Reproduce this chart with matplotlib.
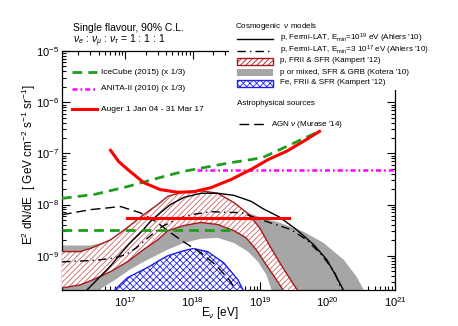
import numpy as np
import matplotlib
matplotlib.use('Agg')
import matplotlib.pyplot as plt
from matplotlib.lines import Line2D
from matplotlib.patches import Rectangle
from matplotlib.ticker import LogLocator, NullFormatter

plt.rcParams['font.family'] = ['Liberation Sans', 'DejaVu Sans']
plt.rcParams['mathtext.fontset'] = 'custom'
plt.rcParams['mathtext.rm'] = 'Liberation Sans'
plt.rcParams['mathtext.it'] = 'Liberation Sans:italic'
plt.rcParams['mathtext.bf'] = 'Liberation Sans:bold'
plt.rcParams['hatch.linewidth'] = 0.6

# values: log10(E / eV), log10(E^2 dN/dE / GeV cm^-2 s^-1 sr^-1)
ice_logE = [16.06, 16.55, 17.03, 17.52, 17.87, 18.12, 18.57, 18.87, 19.04, 19.27, 19.61, 19.88]
ice_logF = [-7.88, -7.80, -7.65, -7.47, -7.35, -7.29, -7.18, -7.12, -7.08, -6.94, -6.73, -6.57]
ice_flat_logE = [16.06, 18.64]
ice_flat_logF = [-8.49, -8.49]

anita_logE = [18.06, 21.0]
anita_logF = [-7.33, -7.33]

auger_logE = [16.78, 16.90, 17.03, 17.27, 17.52, 17.78, 18.01, 18.27, 18.57, 18.87, 19.12, 19.39, 19.66, 19.88]
auger_logF = [-6.94, -7.16, -7.31, -7.57, -7.71, -7.76, -7.75, -7.67, -7.51, -7.31, -7.12, -6.96, -6.75, -6.57]
auger_flat_logE = [17.03, 19.43]
auger_flat_logF = [-8.27, -8.27]

ahl19_logE = [16.40, 16.55, 16.78, 16.93, 17.07, 17.27, 17.37, 17.52, 17.67, 17.87, 18.12,
              18.37, 18.61, 18.87, 19.04, 19.28, 19.54, 19.79, 19.99, 20.13, 20.25]
ahl19_logF = [-9.71, -9.51, -9.20, -8.96, -8.75, -8.49, -8.33, -8.16, -8.00, -7.86, -7.78,
              -7.78, -7.82, -7.94, -8.08, -8.24, -8.49, -8.78, -9.08, -9.41, -9.71]

ahl17_logE = [16.06, 16.40, 16.63, 16.85, 17.00, 17.15, 17.30, 17.52, 17.75, 17.97, 18.27,
              18.72, 19.09, 19.46, 19.69, 19.91, 20.10, 20.22]
ahl17_logF = [-9.12, -9.10, -9.08, -9.04, -8.98, -8.86, -8.69, -8.45, -8.29, -8.20, -8.14,
              -8.16, -8.33, -8.49, -8.69, -8.98, -9.31, -9.71]

agn_logE = [16.06, 16.48, 16.93, 17.22, 17.45, 17.67, 17.90, 18.12, 18.34, 18.54, 18.66]
agn_logF = [-8.20, -8.10, -8.04, -8.16, -8.33, -8.55, -8.76, -8.94, -9.18, -9.47, -9.71]

kamp_up_logE = [16.06, 16.33, 16.52, 16.78, 17.03, 17.27, 17.48, 17.63, 17.87, 18.12, 18.37,
                18.61, 18.82, 18.99, 19.13, 19.31, 19.46, 19.57]
kamp_up_logF = [-8.92, -8.92, -8.84, -8.69, -8.45, -8.20, -8.00, -7.84, -7.75, -7.73, -7.78,
                -7.96, -8.18, -8.45, -8.78, -9.18, -9.49, -9.71]
kamp_lo_logE = [16.06, 16.33, 16.52, 16.78, 17.03, 17.27, 17.48, 17.63, 17.87, 18.12, 18.37,
                18.61, 18.79, 18.94, 19.09, 19.24, 19.36]
kamp_lo_logF = [-9.63, -9.57, -9.47, -9.31, -9.12, -8.88, -8.69, -8.51, -8.41, -8.35, -8.39,
                -8.51, -8.65, -8.88, -9.18, -9.47, -9.71]

kot_up_logE = [16.06, 16.48, 16.78, 17.03, 17.27, 17.52, 17.78, 18.01, 18.27, 18.57, 18.82,
               19.04, 19.28, 19.64, 19.94, 20.24, 20.43, 20.57]
kot_up_logF = [-8.80, -8.80, -8.71, -8.51, -8.25, -8.02, -7.86, -7.80, -7.84, -7.96, -8.16,
               -8.27, -8.35, -8.53, -8.75, -9.08, -9.41, -9.75]
kot_lo_logE = [16.06, 16.33, 16.48, 16.63, 16.85, 17.07, 17.27, 17.45, 17.63, 17.87, 18.12,
               18.37, 18.61, 18.82, 18.97, 19.09, 19.19]
kot_lo_logF = [-9.86, -9.82, -9.76, -9.65, -9.47, -9.27, -9.12, -9.00, -8.88, -8.75, -8.67,
               -8.65, -8.75, -8.92, -9.12, -9.37, -9.75]

fe_logE = [16.81, 17.03, 17.27, 17.37, 17.52, 17.63, 17.87, 18.01, 18.22, 18.46, 18.67, 18.76]
fe_logF = [-9.71, -9.43, -9.27, -9.20, -9.08, -9.00, -8.90, -8.86, -8.92, -9.14, -9.47, -9.71]

xlim = (10**16.06, 1e21)
ylim = (10**-9.67, 1e-5)


def p(v):
    return 10.0 ** np.asarray(v)


W, H = 458, 326
fig = plt.figure(figsize=(W / 100, H / 100), dpi=100)
ax = fig.add_axes([62 / W, 36 / H, 333 / W, 239 / H])


def fx(x):
    return x / W


def fy(y):
    return 1 - y / H


red = '#ff0000'
green = '#1e9e1e'
magenta = '#ff00ff'
dred = '#a81818'
hred = '#c86464'
blue = '#2020ee'
gray = '#a6a6a6'

# bands
ax.fill(p(kot_up_logE + kot_lo_logE[::-1]), p(kot_up_logF + kot_lo_logF[::-1]),
        color=gray, lw=0, zorder=2)
ax.fill(p(kamp_up_logE + kamp_lo_logE[::-1]), p(kamp_up_logF + kamp_lo_logF[::-1]),
        facecolor='white', edgecolor=hred, hatch='//////', lw=0, zorder=3)
ax.plot(p(kamp_up_logE), p(kamp_up_logF), color=dred, lw=1.0, zorder=4)
ax.plot(p(kamp_lo_logE), p(kamp_lo_logF), color=dred, lw=1.0, zorder=4)
ax.fill(p(fe_logE), p(fe_logF), facecolor='white', edgecolor=blue, hatch='xxxxx',
        lw=0, zorder=3)
ax.plot(p(fe_logE), p(fe_logF), color=blue, lw=1.0, zorder=4)

# model lines
ax.plot(p(ahl19_logE), p(ahl19_logF), color='black', lw=1.0, zorder=5)
ax.plot(p(ahl17_logE), p(ahl17_logF), color='black', lw=1.0, zorder=5,
        ls=(0, (6, 3, 1, 3)))
ax.plot(p(agn_logE), p(agn_logF), color='black', lw=1.0, zorder=5,
        ls=(0, (7, 3.5)))

# limits
ax.plot(p(ice_logE), p(ice_logF), color=green, lw=2.0, ls=(0, (3.5, 2.2)), zorder=6)
ax.plot(p(ice_flat_logE), p(ice_flat_logF), color=green, lw=2.0, ls=(0, (3.5, 2.2)), zorder=6)
ax.plot(p(anita_logE), p(anita_logF), color=magenta, lw=1.8, ls=(0, (2, 1.2, 0.7, 1.2)), zorder=6)
ax.plot(p(auger_logE), p(auger_logF), color=red, lw=2.2, zorder=7)
ax.plot(p(auger_flat_logE), p(auger_flat_logF), color=red, lw=2.2, zorder=7)

ax.set_xscale('log')
ax.set_yscale('log')
ax.set_xlim(*xlim)
ax.set_ylim(*ylim)
ax.xaxis.set_major_locator(LogLocator(base=10, numticks=10))
ax.xaxis.set_minor_locator(LogLocator(base=10, subs=np.arange(2, 10), numticks=20))
ax.yaxis.set_minor_locator(LogLocator(base=10, subs=np.arange(2, 10), numticks=20))
ax.xaxis.set_minor_formatter(NullFormatter())
ax.yaxis.set_minor_formatter(NullFormatter())
ax.tick_params(which='both', direction='in', top=True, right=True, width=0.8)
ax.tick_params(which='major', length=6)
ax.tick_params(which='minor', length=3)
ax.tick_params(axis='y', labelsize=8, pad=2)
ax.tick_params(axis='x', labelsize=8, pad=4)
for s in ax.spines.values():
    s.set_linewidth(0.9)

fig.text(fx(29), fy(165), r'E$^{2}$ dN/dE  [ GeV cm$^{-2}$ s$^{-1}$ sr$^{-1}$]',
         rotation=90, ha='center', va='center', fontsize=8.5)
fig.text(fx(220), fy(313), r'E$_{\nu}$ [eV]', ha='center', va='center', fontsize=8.5)

fig.text(fx(73), fy(28), 'Single flavour, 90% C.L.', ha='left', va='center', fontsize=7.5)
fig.text(fx(73), fy(41), r'$\nu_{e}$ : $\nu_{\mu}$ : $\nu_{\tau}$ = 1 : 1 : 1',
         ha='left', va='center', fontsize=7.5)

# left legend
left_entries = [
    (72, dict(color=green, lw=2.0, ls=(0, (3.5, 2.2))), 'IceCube (2015) (x 1/3)'),
    (89, dict(color=magenta, lw=1.8, ls=(0, (2, 1.2, 0.7, 1.2))), 'ANITA-II (2010) (x 1/3)'),
    (109, dict(color=red, lw=2.2), 'Auger 1 Jan 04 - 31 Mar 17'),
]
for y, st, lab in left_entries:
    fig.add_artist(Line2D([fx(72), fx(97)], [fy(y), fy(y)], transform=fig.transFigure, **st))
    fig.text(fx(101), fy(y), lab, ha='left', va='center', fontsize=6)

# right legend, drawn over the frame like the original
fig.add_artist(Rectangle((fx(229), fy(90)), 1 - fx(229), 90 / H, transform=fig.transFigure,
                         facecolor='white', edgecolor='none', zorder=10))
fs = 5.8
fig.text(fx(235), fy(27), r'Cosmogenic  $\nu$ models', ha='left', va='center',
         fontsize=fs, zorder=11)
line_entries = [
    (38.5, dict(color='black', lw=1.0), r'p, Fermi-LAT, E$_{\rm min}$=10$^{19}$ eV (Ahlers '"'"'10)'),
    (50.5, dict(color='black', lw=1.0, ls=(0, (6, 3, 1, 3))),
     r'p, Fermi-LAT, E$_{\rm min}$=3 10$^{17}$ eV (Ahlers '"'"'10)'),
]
for y, st, lab in line_entries:
    fig.add_artist(Line2D([fx(237), fx(273)], [fy(y), fy(y)], transform=fig.transFigure,
                          zorder=11, **st))
    fig.text(fx(280), fy(y), lab, ha='left', va='center', fontsize=fs, zorder=11)

box_entries = [
    (61, dict(facecolor='white', edgecolor=dred, hatch='//////', lw=1.0), "p, FRII & SFR (Kampert '12)"),
    (72, dict(facecolor=gray, edgecolor='none'), "p or mixed, SFR & GRB (Kotera '10)"),
    (83, dict(facecolor='white', edgecolor=blue, hatch='xxxxx', lw=1.0), "Fe, FRII & SFR (Kampert '12)"),
]
for y, st, lab in box_entries:
    fig.add_artist(Rectangle((fx(237), fy(y + 3.5)), 36 / W, 7 / H, transform=fig.transFigure,
                             zorder=11, **st))
    fig.text(fx(280), fy(y), lab, ha='left', va='center', fontsize=fs, zorder=11)

fig.text(fx(237), fy(104), 'Astrophysical sources', ha='left', va='center', fontsize=fs)
fig.add_artist(Line2D([fx(239), fx(265)], [fy(124), fy(124)], transform=fig.transFigure,
                      color='black', lw=1.0, ls=(0, (7, 3.5))))
fig.text(fx(271), fy(124), r"AGN $\nu$ (Murase '14)", ha='left', va='center', fontsize=fs)

fig.savefig('out.png', dpi=100)
